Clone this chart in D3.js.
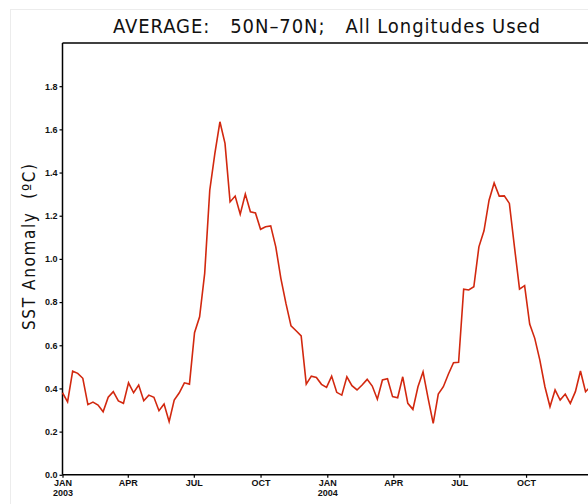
<!DOCTYPE html>
<html>
<head>
<meta charset="utf-8">
<script src="https://cdn.jsdelivr.net/npm/d3@7"></script>
<style>
  html, body { margin: 0; padding: 0; background: #fff; }
  svg { display: block; }
  .keep-spaces { white-space: pre; }
</style>
</head>
<body>
<svg id="chart" width="588" height="504"></svg>
<script>
// Weekly area-mean SST anomaly, 50N-70N, starting the first week of 2003
const startDate = Date.UTC(2003, 0, 1);
const sstAnomaly = [
  0.380, 0.338, 0.480, 0.470, 0.447, 0.325, 0.337, 0.323, 0.292, 0.359,
  0.385, 0.342, 0.331, 0.426, 0.380, 0.416, 0.343, 0.369, 0.359, 0.297,
  0.328, 0.246, 0.346, 0.380, 0.426, 0.420, 0.658, 0.732, 0.933, 1.318,
  1.488, 1.635, 1.535, 1.264, 1.291, 1.207, 1.300, 1.218, 1.213, 1.137,
  1.149, 1.153, 1.056, 0.910, 0.794, 0.690, 0.667, 0.643, 0.420, 0.457,
  0.451, 0.419, 0.405, 0.457, 0.382, 0.369, 0.454, 0.413, 0.393, 0.416,
  0.442, 0.411, 0.350, 0.439, 0.445, 0.362, 0.357, 0.454, 0.331, 0.303,
  0.408, 0.477, 0.354, 0.238, 0.374, 0.408, 0.467, 0.519, 0.521, 0.860,
  0.856, 0.871, 1.056, 1.130, 1.272, 1.352, 1.291, 1.292, 1.257, 1.056,
  0.860, 0.876, 0.698, 0.632, 0.531, 0.408, 0.315, 0.393, 0.346, 0.374,
  0.331, 0.385, 0.481, 0.385, 0.410
];
const yTicks = [0.0, 0.2, 0.4, 0.6, 0.8, 1.0, 1.2, 1.4, 1.6, 1.8];
const xTickDates = [
  Date.UTC(2003, 0, 1), Date.UTC(2003, 3, 1), Date.UTC(2003, 6, 1), Date.UTC(2003, 9, 1),
  Date.UTC(2004, 0, 1), Date.UTC(2004, 3, 1), Date.UTC(2004, 6, 1), Date.UTC(2004, 9, 1)
];
const monthNames = ["JAN","FEB","MAR","APR","MAY","JUN","JUL","AUG","SEP","OCT","NOV","DEC"];
const titleText = "AVERAGE:   50N\u201370N;   All Longitudes Used";
const yLabelText = "SST Anomaly  (\u00BAC)";

const weeks = sstAnomaly.map((v, i) => ({ date: new Date(startDate + i * 7 * 864e5), value: v }));

const svg = d3.select("#chart");
const plotLeft = 62.5, plotTop = 43, plotBottom = 474.8, plotRight = 592.8;

// faint page frame
svg.append("rect")
  .attr("x", 10.5).attr("y", 9.5).attr("width", 700).attr("height", 700)
  .attr("fill", "none").attr("stroke", "#ececec").attr("stroke-width", 1);

const x = d3.scaleUtc()
  .domain([new Date(Date.UTC(2003, 0, 1)), new Date(Date.UTC(2005, 0, 1))])
  .range([plotLeft, plotRight]);
const y = d3.scaleLinear().domain([0, 2.0]).range([plotBottom, plotTop]);

// title
svg.append("text")
  .attr("class", "keep-spaces")
  .attr("x", 113).attr("y", 33)
  .attr("font-family", "DejaVu Sans Condensed, DejaVu Sans, sans-serif")
  .attr("font-size", 20)
  .attr("font-weight", 300)
  .attr("textLength", 427)
  .attr("lengthAdjust", "spacing")
  .attr("fill", "#111")
  .text(titleText);

// top frame line
svg.append("line")
  .attr("x1", plotLeft).attr("x2", plotRight + 5)
  .attr("y1", y(2.0)).attr("y2", y(2.0))
  .attr("stroke", "#000").attr("stroke-width", 1.5);

// y axis
const yAxis = svg.append("g")
  .attr("transform", `translate(${plotLeft},0)`)
  .call(d3.axisLeft(y).tickValues(yTicks).tickFormat(d3.format(".1f")).tickSize(3).tickPadding(2));
yAxis.select(".domain").attr("stroke-width", 1.5).attr("d", `M0,${plotBottom}V${y(2.0)}`);
yAxis.selectAll(".tick line").attr("stroke-width", 1.2);
yAxis.selectAll(".tick text")
  .attr("font-family", "Liberation Sans, Arial, sans-serif")
  .attr("font-size", 9).attr("font-weight", "bold").attr("fill", "#111");

// x axis
const xAxis = svg.append("g")
  .attr("transform", `translate(0,${plotBottom})`)
  .call(d3.axisBottom(x).tickValues(xTickDates.map(d => new Date(d))).tickSize(3).tickFormat(""));
xAxis.select(".domain").attr("stroke-width", 1.5).attr("d", `M${plotLeft},0H${plotRight + 5}`);
xAxis.selectAll(".tick line").attr("stroke-width", 1.2);
xAxis.selectAll(".tick").each(function(d) {
  const g = d3.select(this);
  const t = g.append("text")
    .attr("fill", "#111")
    .attr("text-anchor", "middle")
    .attr("font-family", "Liberation Sans, Arial, sans-serif")
    .attr("font-size", 9).attr("font-weight", "bold");
  t.append("tspan").attr("x", 0).attr("y", 11.5)
    .text(monthNames[d.getUTCMonth()]);
  if (d.getUTCMonth() === 0) {
    t.append("tspan").attr("x", 0).attr("y", 21.5).text(d.getUTCFullYear());
  }
});

// y axis label
svg.append("text")
  .attr("class", "keep-spaces")
  .attr("transform", `translate(35,247) rotate(-90)`)
  .attr("text-anchor", "middle")
  .attr("font-family", "DejaVu Sans Condensed, DejaVu Sans, sans-serif")
  .attr("font-size", 17)
  .attr("font-weight", 300)
  .attr("textLength", 166)
  .attr("lengthAdjust", "spacing")
  .attr("fill", "#111")
  .text(yLabelText);

// anomaly series
const line = d3.line().x(d => x(d.date)).y(d => y(d.value));
svg.append("path")
  .datum(weeks)
  .attr("d", line)
  .attr("fill", "none")
  .attr("stroke", "#d2280f")
  .attr("stroke-width", 1.6)
  .attr("stroke-linejoin", "miter");
</script>
</body>
</html>
